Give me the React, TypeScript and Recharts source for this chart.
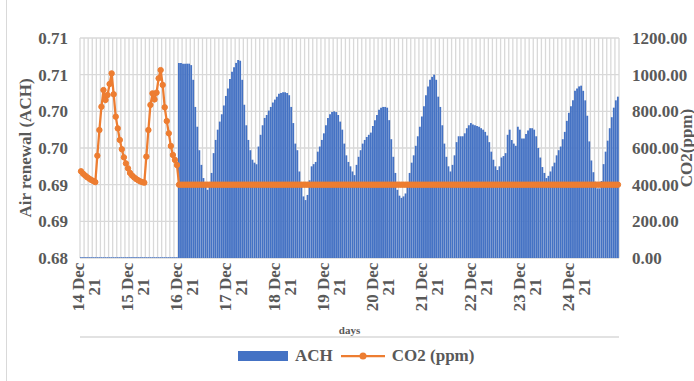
import React from 'react';
import {
    ComposedChart,
    Bar,
    Line,
    XAxis,
    YAxis,
    CartesianGrid,
    Legend,
    Label
} from 'recharts';

// categories: one entry per hour, 14 Dec 21 -> 24 Dec 21
const days = ['14 Dec 21', '15 Dec 21', '16 Dec 21', '17 Dec 21', '18 Dec 21', '19 Dec 21',
    '20 Dec 21', '21 Dec 21', '22 Dec 21', '23 Dec 21', '24 Dec 21'];
const hours = ['00:00', '01:00', '02:00', '03:00', '04:00', '05:00', '06:00', '07:00',
    '08:00', '09:00', '10:00', '11:00', '12:00', '13:00', '14:00', '15:00',
    '16:00', '17:00', '18:00', '19:00', '20:00', '21:00', '22:00', '23:00'];

// ACH (left axis)
const achDec14 = [0.6801, 0.6801, 0.6801, 0.6801, 0.6801, 0.6801, 0.6801, 0.6801, 0.6801, 0.6801, 0.6801, 0.6801,
    0.6801, 0.6801, 0.6801, 0.6801, 0.6801, 0.6801, 0.6801, 0.6801, 0.6801, 0.6801, 0.6801, 0.6801];
const achDec15 = [0.6801, 0.6801, 0.6801, 0.6801, 0.6801, 0.6801, 0.6801, 0.6801, 0.6801, 0.6801, 0.6801, 0.6801,
    0.6801, 0.6801, 0.6801, 0.6801, 0.6801, 0.6801, 0.6801, 0.6801, 0.6801, 0.6801, 0.6801, 0.6801];
const achDec16 = [0.7066, 0.7066, 0.7065, 0.7065, 0.7065, 0.7065, 0.7063, 0.7043, 0.7006, 0.6979, 0.6947, 0.6927,
    0.6909, 0.6897, 0.6893, 0.6897, 0.6916, 0.6943, 0.6961, 0.6975, 0.6986, 0.6996, 0.7008, 0.7021];
const achDec17 = [0.7031, 0.7044, 0.7054, 0.7060, 0.7066, 0.7070, 0.7069, 0.7043, 0.7009, 0.6981, 0.6961, 0.6947,
    0.6934, 0.6930, 0.6928, 0.6952, 0.6968, 0.6981, 0.6991, 0.6995, 0.7001, 0.7006, 0.7012, 0.7016];
const achDec18 = [0.7020, 0.7024, 0.7025, 0.7026, 0.7026, 0.7025, 0.7022, 0.7006, 0.6984, 0.6956, 0.6947, 0.6918,
    0.6902, 0.6884, 0.6879, 0.6886, 0.6906, 0.6925, 0.6928, 0.6931, 0.6945, 0.6952, 0.6961, 0.6970];
const achDec19 = [0.6981, 0.6991, 0.6996, 0.6999, 0.7000, 0.6999, 0.6995, 0.6986, 0.6975, 0.6956, 0.6940, 0.6931,
    0.6925, 0.6918, 0.6913, 0.6927, 0.6938, 0.6947, 0.6956, 0.6961, 0.6965, 0.6968, 0.6971, 0.6980];
const achDec20 = [0.6988, 0.6995, 0.7002, 0.7005, 0.7006, 0.7006, 0.7005, 0.6988, 0.6962, 0.6938, 0.6916, 0.6893,
    0.6885, 0.6882, 0.6884, 0.6888, 0.6897, 0.6916, 0.6930, 0.6940, 0.6953, 0.6966, 0.6979, 0.6993];
const achDec21 = [0.7007, 0.7022, 0.7034, 0.7043, 0.7047, 0.7050, 0.7043, 0.7020, 0.7006, 0.6981, 0.6956, 0.6938,
    0.6925, 0.6918, 0.6927, 0.6940, 0.6958, 0.6966, 0.6966, 0.6966, 0.6970, 0.6977, 0.6981, 0.6984];
const achDec22 = [0.6982, 0.6981, 0.6980, 0.6979, 0.6977, 0.6975, 0.6972, 0.6967, 0.6958, 0.6945, 0.6934, 0.6925,
    0.6920, 0.6925, 0.6937, 0.6939, 0.6943, 0.6968, 0.6975, 0.6961, 0.6956, 0.6953, 0.6979, 0.6975];
const achDec23 = [0.6963, 0.6963, 0.6969, 0.6974, 0.6977, 0.6977, 0.6975, 0.6966, 0.6950, 0.6937, 0.6924, 0.6916,
    0.6909, 0.6912, 0.6918, 0.6925, 0.6930, 0.6940, 0.6947, 0.6952, 0.6962, 0.6972, 0.6987, 0.6998];
const achDec24 = [0.7007, 0.7015, 0.7028, 0.7031, 0.7034, 0.7035, 0.7028, 0.7015, 0.6994, 0.6959, 0.6933, 0.6917,
    0.6904, 0.6895, 0.6895, 0.6905, 0.6928, 0.6945, 0.6960, 0.6977, 0.6992, 0.7005, 0.7015, 0.7020];

// CO2 in ppm (right axis)
const co2Dec14 = [473, 460, 450, 441, 433, 426, 420, 414, 558, 698, 825, 916,
    862, 889, 949, 1007, 893, 771, 707, 644, 593, 549, 516, 489];
const co2Dec15 = [464, 450, 440, 431, 424, 418, 414, 411, 553, 698, 835, 898,
    865, 902, 980, 1025, 944, 822, 747, 680, 611, 562, 535, 507];
const co2Dec16 = [400, 400, 400, 400, 400, 400, 400, 400, 400, 400, 400, 400, 400, 400, 400, 400, 400, 400, 400, 400, 400, 400, 400, 400];
const co2Dec17 = [400, 400, 400, 400, 400, 400, 400, 400, 400, 400, 400, 400, 400, 400, 400, 400, 400, 400, 400, 400, 400, 400, 400, 400];
const co2Dec18 = [400, 400, 400, 400, 400, 400, 400, 400, 400, 400, 400, 400, 400, 400, 400, 400, 400, 400, 400, 400, 400, 400, 400, 400];
const co2Dec19 = [400, 400, 400, 400, 400, 400, 400, 400, 400, 400, 400, 400, 400, 400, 400, 400, 400, 400, 400, 400, 400, 400, 400, 400];
const co2Dec20 = [400, 400, 400, 400, 400, 400, 400, 400, 400, 400, 400, 400, 400, 400, 400, 400, 400, 400, 400, 400, 400, 400, 400, 400];
const co2Dec21 = [400, 400, 400, 400, 400, 400, 400, 400, 400, 400, 400, 400, 400, 400, 400, 400, 400, 400, 400, 400, 400, 400, 400, 400];
const co2Dec22 = [400, 400, 400, 400, 400, 400, 400, 400, 400, 400, 400, 400, 400, 400, 400, 400, 400, 400, 400, 400, 400, 400, 400, 400];
const co2Dec23 = [400, 400, 400, 400, 400, 400, 400, 400, 400, 400, 400, 400, 400, 400, 400, 400, 400, 400, 400, 400, 400, 400, 400, 400];
const co2Dec24 = [400, 400, 400, 400, 400, 400, 400, 400, 400, 400, 400, 400, 400, 400, 400, 400, 400, 400, 400, 400, 400, 400, 400, 400];

// axis ticks
const leftTicks = [0.68, 0.685, 0.69, 0.695, 0.7, 0.705, 0.71];
const leftTickLabels = ['0.68', '0.69', '0.69', '0.70', '0.70', '0.71', '0.71'];
const rightTicks = [0, 200, 400, 600, 800, 1000, 1200];

const achValues = [...achDec14, ...achDec15, ...achDec16, ...achDec17, ...achDec18, ...achDec19,
    ...achDec20, ...achDec21, ...achDec22, ...achDec23, ...achDec24];
const co2Values = [...co2Dec14, ...co2Dec15, ...co2Dec16, ...co2Dec17, ...co2Dec18, ...co2Dec19,
    ...co2Dec20, ...co2Dec21, ...co2Dec22, ...co2Dec23, ...co2Dec24];

const data = days.flatMap(d => hours.map(h => `${d} ${h}`))
    .map((time, i) => ({ time, ach: achValues[i], co2: co2Values[i] }));

const FONT = "'Liberation Serif', 'Times New Roman', serif";
const TEXT = '#595959';
const GRID = '#d9d9d9';
const BLUE = '#4472C4';
const ORANGE = '#ED7D31';

const axisText = { fill: TEXT, fontSize: 17, fontWeight: 'bold', fontFamily: FONT };

const DayTick = (props: any) => {
    const { x, y, payload } = props;
    const parts = String(payload.value).split(' ');
    return (
        <g transform={`translate(${x + 3},${y + 29})`}>
            <text transform="rotate(-90)" textAnchor="middle" {...axisText}>
                <tspan x={0} dy={0}>{`${parts[0]} ${parts[1]}`}</tspan>
                <tspan x={0} dy={16}>{parts[2]}</tspan>
            </text>
        </g>
    );
};

const LeftTitle = ({ viewBox }: any) => {
    const cx = viewBox.x + 25;
    const cy = viewBox.y + viewBox.height / 2;
    return (
        <text x={cx} y={cy} transform={`rotate(-90, ${cx}, ${cy})`} textAnchor="middle"
            dominantBaseline="central" {...axisText}>
            Air renewal (ACH)
        </text>
    );
};

const RightTitle = ({ viewBox }: any) => {
    const cx = viewBox.x + 67;
    const cy = viewBox.y + viewBox.height / 2;
    return (
        <text x={cx} y={cy} transform={`rotate(-90, ${cx}, ${cy})`} textAnchor="middle"
            dominantBaseline="central" {...axisText}>
            CO2(ppm)
        </text>
    );
};

const LegendRow = ({ payload }: any) => (
    <div style={{ display: 'flex', alignItems: 'center', paddingLeft: 238, fontFamily: FONT, fontWeight: 'bold', fontSize: 17, color: TEXT }}>
        {(payload || []).map((entry: any) => (
            <div key={entry.value} style={{ display: 'flex', alignItems: 'center', marginRight: 8 }}>
                {entry.type === 'rect' ? (
                    <svg width={50} height={12}><rect x={0} y={1} width={50} height={10} fill={BLUE} /></svg>
                ) : (
                    <svg width={44} height={12}>
                        <line x1={0} x2={44} y1={6} y2={6} stroke={ORANGE} strokeWidth={2.25} />
                        <circle cx={22} cy={6} r={3.5} fill={ORANGE} />
                    </svg>
                )}
                <span style={{ marginLeft: 7 }}>{entry.value}</span>
            </div>
        ))}
    </div>
);

const gridColumns = ({ offset }: any) => {
    const band = offset.width / data.length;
    const cols: number[] = [];
    for (let k = 0; k <= data.length; k += 2) cols.push(offset.left + k * band);
    return cols;
};

export default function App() {
    return (
        <div style={{ position: 'absolute', left: 0, top: 0, width: 694, height: 381, background: '#fff' }}>
            <div style={{ position: 'absolute', left: 6, top: 0, width: 1, height: 381, background: GRID }} />
            <ComposedChart width={694} height={381} data={data} margin={{ top: 38, right: 0, bottom: 43, left: 0 }}>
                <CartesianGrid yAxisId="left" stroke={GRID} strokeWidth={1.3} verticalCoordinatesGenerator={gridColumns} />
                <XAxis xAxisId="minor" dataKey="time" height={1} interval={1} tick={false}
                    axisLine={{ stroke: GRID, strokeWidth: 1.5 }} tickLine={{ stroke: GRID }} tickSize={4} />
                <XAxis dataKey="time" height={79} interval={23} tick={<DayTick />} axisLine={false}
                    tickLine={false} tickSize={0} tickMargin={0}>
                    <Label value="days" position="insideBottom" offset={3}
                        style={{ fill: TEXT, fontSize: 11, fontWeight: 'bold', fontFamily: FONT }} />
                </XAxis>
                <YAxis yAxisId="left" width={80} domain={[0.68, 0.71]} ticks={leftTicks}
                    tickFormatter={(_v: number, i: number) => leftTickLabels[i]}
                    axisLine={false} tickLine={false} tickSize={0} tickMargin={12} tick={axisText}>
                    <Label content={LeftTitle} />
                </YAxis>
                <YAxis yAxisId="right" orientation="right" width={75} domain={[0, 1200]} ticks={rightTicks}
                    tickFormatter={(v: number) => v.toFixed(2)}
                    axisLine={false} tickLine={false} tickSize={0} tickMargin={13} tick={axisText}>
                    <Label content={RightTitle} />
                </YAxis>
                <Bar yAxisId="left" dataKey="ach" name="ACH" fill={BLUE} barSize={1.85} legendType="rect"
                    isAnimationActive={false} />
                <Line yAxisId="right" dataKey="co2" name="CO2 (ppm)" stroke={ORANGE} strokeWidth={2.25}
                    dot={{ r: 2.7, fill: ORANGE, stroke: ORANGE, strokeWidth: 1 }} legendType="circle"
                    isAnimationActive={false} />
                <Legend verticalAlign="middle" align="center" layout="horizontal"
                    wrapperStyle={{ top: 346, left: 0, width: 694, height: 24 }} content={LegendRow} />
            </ComposedChart>
        </div>
    );
}
